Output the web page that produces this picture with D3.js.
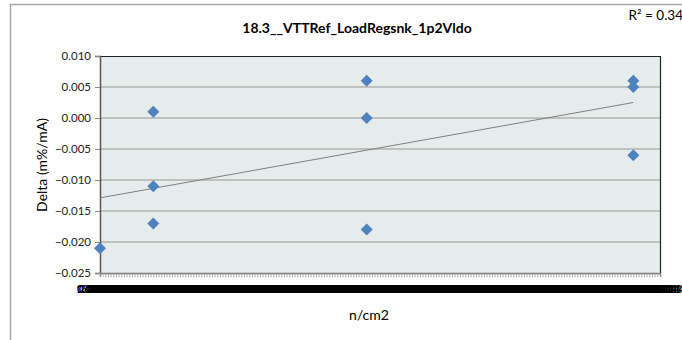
<!DOCTYPE html>
<html><head><meta charset="utf-8">
<script src="https://cdn.jsdelivr.net/npm/d3@7"></script>
<style>body{margin:0;background:#fff;} svg{display:block;font-family:Lato,"Open Sans",sans-serif;}</style>
</head><body>
<svg id="c" width="682" height="340"></svg>
<script>
const title = "18.3__VTTRef_LoadRegsnk_1p2Vldo";
const xTitle = "n/cm2";
const yTitle = "Delta (m%/mA)";
const xValues = [0, 20, 20, 20, 100, 100, 100, 200, 200, 200];
const yValues = [-0.021, 0.001, -0.011, -0.017, 0.006, 0.000, -0.018, 0.006, 0.005, -0.006];
const yTicks = [0.010, 0.005, 0.000, -0.005, -0.010, -0.015, -0.020, -0.025];
const xDomain = [0, 210];
const xTickValues = d3.range(0, 211);
const r2Label = "R² = 0.34";

const svg = d3.select("#c");
const L = 100, R = 660, T = 56, B = 273;
const x = d3.scaleLinear().domain(xDomain).range([L, R]);
const y = d3.scaleLinear().domain([-0.025, 0.010]).range([B, T]);

// outer frame
svg.append("path").attr("d", `M10.5,345 V4.5 H690`).attr("fill", "none").attr("stroke", "#a6a6a6").attr("stroke-width", 1.5);

// plot bg
svg.append("rect").attr("x", L).attr("y", T).attr("width", R - L).attr("height", B - T).attr("fill", "#e6ecec");

// gridlines
svg.append("g").selectAll("line").data(yTicks.filter(d => d > -0.025 && d < 0.010)).join("line")
  .attr("x1", L).attr("x2", R).attr("y1", d => y(d)).attr("y2", d => y(d))
  .attr("stroke", "#b2b2b2").attr("stroke-width", 1.6);

// plot border top/right
svg.append("path").attr("d", `M${L},${T + 0.5} H${R + 0.5} V${B}`).attr("fill", "none").attr("stroke", "#222").attr("stroke-width", 1.2);

// y axis
const yAxis = svg.append("g").attr("transform", `translate(${L},0)`)
  .call(d3.axisLeft(y).tickValues(yTicks).tickFormat(d3.format(".3f")).tickSize(5).tickPadding(4));
yAxis.select(".domain").attr("stroke", "#555").attr("stroke-width", 1.5);
yAxis.selectAll(".tick line").attr("stroke", "#888");
yAxis.selectAll("text").attr("font-size", 11.5).attr("fill", "#222").attr("font-family", "Lato");

// x axis
const xAxis = svg.append("g").attr("transform", `translate(0,${B})`)
  .call(d3.axisBottom(x).tickValues(xTickValues).tickFormat(d => (d * 1e12).toExponential(2).toUpperCase().replace("E+", "E+1")).tickSize(4).tickPadding(8));
xAxis.select(".domain").attr("stroke", "#777").attr("stroke-width", 1.5);
xAxis.selectAll(".tick line").attr("stroke", "#999").attr("stroke-width", 0.8);
xAxis.selectAll("text").attr("font-size", 11).attr("font-weight", "bold").attr("fill", "#000").attr("font-family", "Lato");

// trendline
const mx = d3.mean(xValues), my = d3.mean(yValues);
let sxy = 0, sxx = 0;
xValues.forEach((v, i) => { sxy += (v - mx) * (yValues[i] - my); sxx += (v - mx) * (v - mx); });
const slope = sxy / sxx, icpt = my - slope * mx;
const x0 = d3.min(xValues), x1 = d3.max(xValues);
svg.append("line").attr("x1", x(x0)).attr("y1", y(icpt + slope * x0)).attr("x2", x(x1)).attr("y2", y(icpt + slope * x1))
  .attr("stroke", "#7f7f7f").attr("stroke-width", 1);

// markers
const pts = xValues.map((v, i) => [v, yValues[i]]);
svg.append("g").selectAll("path").data(pts).join("path")
  .attr("transform", d => `translate(${x(d[0])},${y(d[1])})`)
  .attr("d", "M0,-6 L6,0 L0,6 L-6,0 Z").attr("fill", "#4f81bd");

// titles
svg.append("text").attr("x", 357).attr("y", 33).attr("text-anchor", "middle").attr("font-weight", "bold")
  .attr("font-size", 14).attr("fill", "#000").text(title);
svg.append("text").attr("x", 683).attr("y", 20).attr("text-anchor", "end").attr("font-size", 13.5)
  .attr("fill", "#000").text(r2Label);
svg.append("text").attr("x", 369).attr("y", 320).attr("text-anchor", "middle").attr("font-size", 14)
  .attr("fill", "#000").text(xTitle);
svg.append("text").attr("transform", "translate(47,165) rotate(-90)").attr("text-anchor", "middle").attr("font-size", 14)
  .attr("fill", "#000").text(yTitle);
</script>
</body></html>
